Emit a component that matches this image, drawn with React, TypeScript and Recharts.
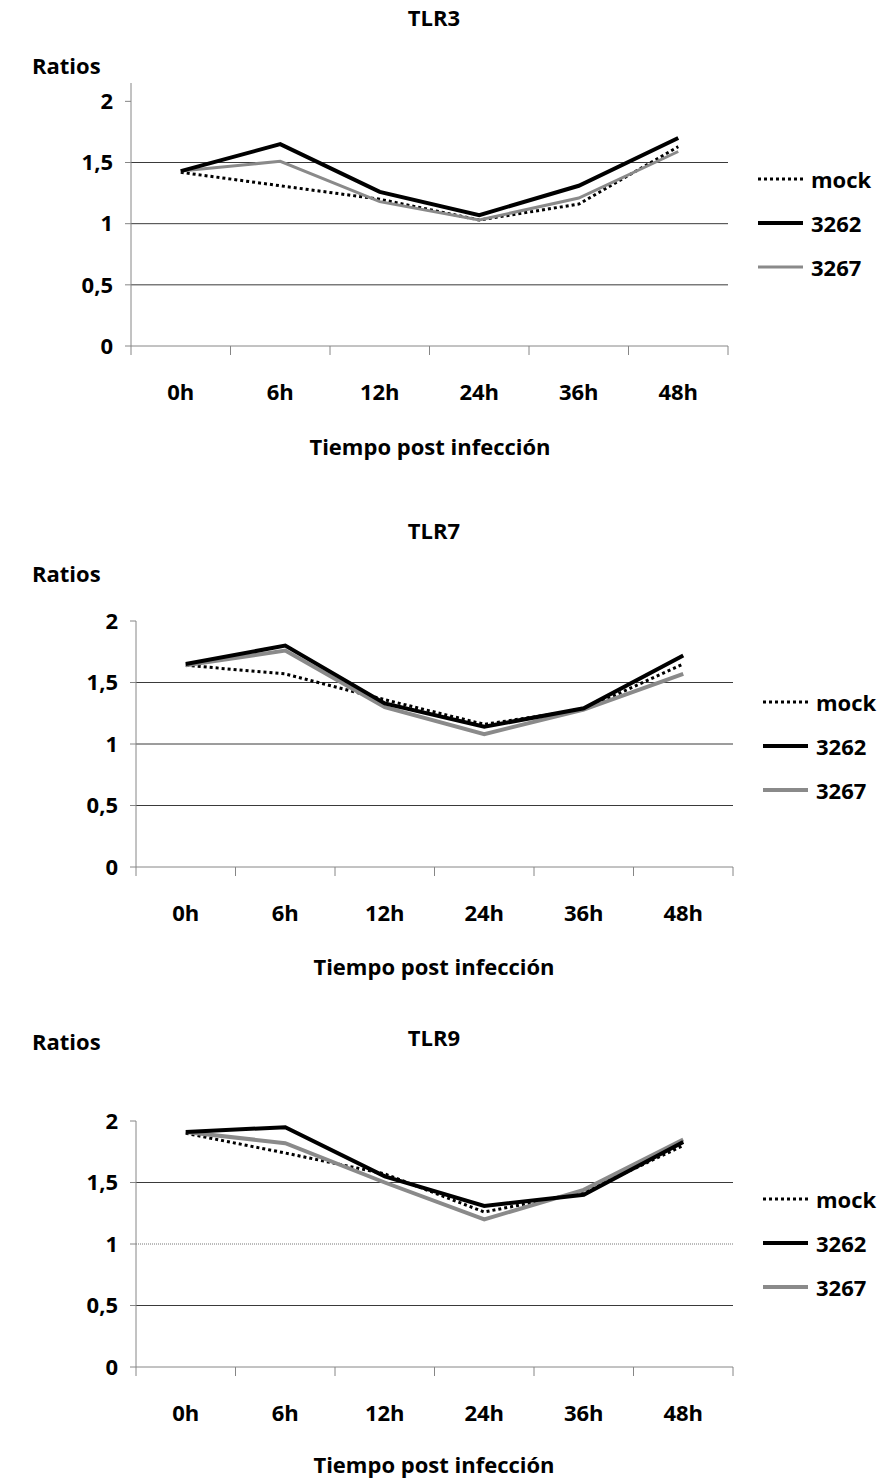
import React from "react";
import { LineChart, Line, XAxis, YAxis, ReferenceLine } from "recharts";

// time points
const categories = ["0h", "6h", "12h", "24h", "36h", "48h"];
const yTicks = [0, 0.5, 1, 1.5, 2];

// TLR3
const tlr3Mock = [1.42, 1.31, 1.2, 1.03, 1.16, 1.63];
const tlr3S3262 = [1.43, 1.65, 1.26, 1.07, 1.31, 1.7];
const tlr3S3267 = [1.43, 1.51, 1.18, 1.03, 1.21, 1.59];

// TLR7
const tlr7Mock = [1.64, 1.57, 1.36, 1.16, 1.28, 1.65];
const tlr7S3262 = [1.65, 1.8, 1.33, 1.14, 1.29, 1.72];
const tlr7S3267 = [1.64, 1.76, 1.3, 1.08, 1.28, 1.57];

// TLR9
const tlr9Mock = [1.9, 1.74, 1.57, 1.26, 1.42, 1.8];
const tlr9S3262 = [1.91, 1.95, 1.55, 1.31, 1.4, 1.83];
const tlr9S3267 = [1.91, 1.82, 1.5, 1.2, 1.44, 1.85];

const FONT = "'Open Sans', 'Noto Sans', sans-serif";
const AXIS = "#868686";
const GRAY = "#8a8a8a";

const buildRows = (mock: number[], a: number[], b: number[]) =>
  categories.map((cat, i) => ({ cat, pos: i + 0.5, mock: mock[i], s3262: a[i], s3267: b[i] }));

const xTickPositions = [0, 0.5, 1, 1.5, 2, 2.5, 3, 3.5, 4, 4.5, 5, 5.5, 6];

// integer positions draw the boundary tick mark, half positions draw the label
const XTick = (props: any) => {
  const { x, y, payload } = props;
  const v = payload.value;
  if (Number.isInteger(v)) {
    return <line x1={x} x2={x} y1={y} y2={y + 9} stroke={AXIS} strokeWidth={1} />;
  }
  return (
    <text x={x} y={y + 45} textAnchor="middle" dominantBaseline="central" fontFamily={FONT} fontWeight={700} fontSize={22} fill="#000">
      {categories[Math.floor(v)]}
    </text>
  );
};

const ChartLegend = ({ left, top, grayWidth }: { left: number; top: number; grayWidth: number }) => {
  const items = [
    { name: "mock", color: "#000", width: 3, dash: "3 3" },
    { name: "3262", color: "#000", width: 4, dash: undefined },
    { name: "3267", color: GRAY, width: grayWidth, dash: undefined },
  ];
  return (
    <div style={{ position: "absolute", left, top, fontFamily: FONT, fontWeight: 700, fontSize: 22 }}>
      {items.map((s) => (
        <div key={s.name} style={{ display: "flex", alignItems: "center", height: 44 }}>
          <svg width={45} height={10}>
            <line x1={0} x2={45} y1={5} y2={5} stroke={s.color} strokeWidth={s.width} strokeDasharray={s.dash} />
          </svg>
          <span style={{ marginLeft: 8 }}>{s.name}</span>
        </div>
      ))}
    </div>
  );
};

interface PanelProps {
  top: number;
  title: string;
  titleY: number;
  ratiosY: number;
  xTitleY: number;
  xTitleCenter: number;
  rows: any[];
  yMax: number;
  marginTop: number;
  marginLeft: number;
  marginRight: number;
  marginBottom: number;
  legendTop: number;
  legendLeft: number;
  grayWidth: number;
  dottedOne?: boolean;
}

const textStyle = (y: number): React.CSSProperties => ({
  position: "absolute",
  top: y - 15,
  height: 30,
  lineHeight: "30px",
  fontFamily: FONT,
  fontWeight: 700,
  whiteSpace: "nowrap",
});

const Panel = (p: PanelProps) => (
  <div style={{ position: "absolute", left: 0, top: p.top, width: 883, height: 500 }}>
    <div style={{ ...textStyle(p.titleY), left: 234, width: 400, textAlign: "center", fontSize: 22 }}>{p.title}</div>
    <div style={{ ...textStyle(p.ratiosY), left: 32, fontSize: 22 }}>Ratios</div>
    <div style={{ ...textStyle(p.xTitleY), left: p.xTitleCenter - 200, width: 400, textAlign: "center", fontSize: 22 }}>
      Tiempo post infección
    </div>
    <LineChart
      width={883}
      height={440}
      data={p.rows}
      margin={{ top: p.marginTop, right: p.marginRight, left: p.marginLeft, bottom: p.marginBottom }}
    >
      <XAxis
        dataKey="pos"
        type="number"
        domain={[0, 6]}
        ticks={xTickPositions}
        interval={0}
        tick={<XTick />}
        tickLine={false}
        tickSize={0}
        tickMargin={0}
        height={40}
        stroke={AXIS}
      />
      <YAxis
        type="number"
        domain={[0, p.yMax]}
        ticks={yTicks}
        interval={0}
        width={60}
        tickSize={6}
        tickMargin={12}
        stroke={AXIS}
        tickFormatter={(v: number) => String(v).replace(".", ",")}
        tick={{ fontFamily: FONT, fontWeight: 700, fontSize: 22, fill: "#000" }}
      />
      <ReferenceLine y={0.5} stroke="#3a3a3a" strokeWidth={1} />
      <ReferenceLine
        y={1}
        stroke={p.dottedOne ? "#777" : "#3a3a3a"}
        strokeWidth={1}
        strokeDasharray={p.dottedOne ? "1 1" : undefined}
      />
      <ReferenceLine y={1.5} stroke="#3a3a3a" strokeWidth={1} />
      <Line dataKey="mock" name="mock" stroke="#000" strokeWidth={3} strokeDasharray="3 3" dot={false} activeDot={false} isAnimationActive={false} />
      <Line dataKey="s3267" name="3267" stroke={GRAY} strokeWidth={p.grayWidth} dot={false} activeDot={false} isAnimationActive={false} />
      <Line dataKey="s3262" name="3262" stroke="#000" strokeWidth={4} dot={false} activeDot={false} isAnimationActive={false} />
    </LineChart>
    <ChartLegend left={p.legendLeft} top={p.legendTop} grayWidth={p.grayWidth} />
  </div>
);

export default function App() {
  return (
    <div style={{ position: "absolute", left: 0, top: 0, width: 883, height: 1480, background: "#fff" }}>
      <Panel
        top={0}
        title="TLR3"
        titleY={17}
        ratiosY={65}
        xTitleY={446}
        xTitleCenter={430}
        rows={buildRows(tlr3Mock, tlr3S3262, tlr3S3267)}
        yMax={2.15}
        marginTop={83}
        marginLeft={71}
        marginRight={155}
        marginBottom={54}
        legendTop={157}
        legendLeft={758}
        grayWidth={3}
      />
      <Panel
        top={500}
        title="TLR7"
        titleY={30}
        ratiosY={73}
        xTitleY={466}
        xTitleCenter={434}
        rows={buildRows(tlr7Mock, tlr7S3262, tlr7S3267)}
        yMax={2}
        marginTop={121}
        marginLeft={76}
        marginRight={150}
        marginBottom={33}
        legendTop={180}
        legendLeft={763}
        grayWidth={4}
      />
      <Panel
        top={1000}
        title="TLR9"
        titleY={37}
        ratiosY={41}
        xTitleY={464}
        xTitleCenter={434}
        rows={buildRows(tlr9Mock, tlr9S3262, tlr9S3267)}
        yMax={2}
        marginTop={121}
        marginLeft={76}
        marginRight={150}
        marginBottom={33}
        legendTop={177}
        legendLeft={763}
        grayWidth={4}
        dottedOne
      />
    </div>
  );
}
